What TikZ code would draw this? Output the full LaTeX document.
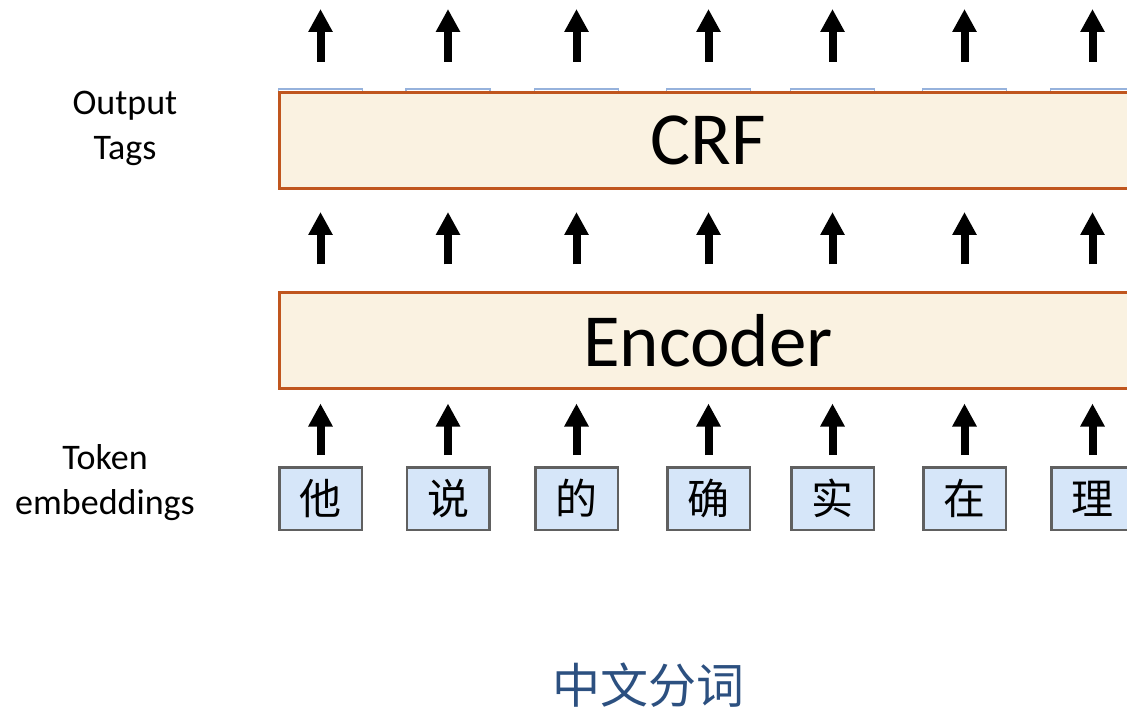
\documentclass[tikz,border=0pt]{standalone}
\usepackage{fontspec}
\setmainfont{Carlito}
\newfontfamily\cjk{Noto Sans CJK SC}
\usetikzlibrary{arrows.meta}

\definecolor{layerfill}{RGB}{250,242,225}
\definecolor{layerdraw}{RGB}{192,86,30}
\definecolor{tokfill}{RGB}{214,230,249}
\definecolor{tokdraw}{RGB}{96,96,96}
\definecolor{tagdraw}{RGB}{150,178,220}
\definecolor{titleblue}{RGB}{44,80,128}

\tikzset{
  layer/.style={draw=layerdraw, fill=layerfill, line width=3pt,
    minimum width=857pt, minimum height=96pt, inner sep=0pt,
    font=\fontsize{75}{80}\selectfont},
  tokbox/.style={draw=tokdraw, fill=tokfill, line width=2.5pt,
    minimum width=82.5pt, minimum height=62.5pt, inner sep=0pt,
    font=\cjk\fontsize{42}{46}\selectfont},
  tagbox/.style={draw=tagdraw, line width=1.5pt,
    minimum width=84pt, minimum height=66pt, inner sep=0pt},
  sidelabel/.style={align=center, font=\fontsize{36}{45}\selectfont},
  uparrow/.style={line width=8pt,
    -{Triangle[length=23pt 0 0, width=23pt 0 0]}},
}

\begin{document}
\begin{tikzpicture}[x=1pt, y=-1pt]
  \useasboundingbox (0,0) rectangle (1127,708);
  \clip (0,0) rectangle (1127,708);

  % tag boxes, mostly covered by the CRF layer
  \foreach \i/\cx in {1/320.5,2/448,3/576.5,4/708.5,5/832.5,6/964.5,7/1092.5}
    \node[tagbox] (tag\i) at (\cx,122) {};

  % layers
  \node[layer] (crf) at (708,140.5) {CRF};
  \node[layer] (enc) at (708,341) {Encoder};

  % token boxes
  \foreach \i/\cx/\ch in {1/320.5/他,2/448/说,3/576.5/的,4/708.5/确,5/832.5/实,6/964.5/在,7/1092.5/理}
    \node[tokbox] (tok\i) at (\cx,498.5) {\ch};

  % arrows between levels
  \foreach \i in {1,...,7} {
    \draw[uparrow, shorten <=11pt, shorten >=13pt] (tok\i.north) -- (tok\i.north |- enc.south);
    \draw[uparrow, shorten <=27pt, shorten >=22pt] (tok\i.north |- enc.north) -- (tok\i.north |- crf.south);
    \coordinate (out\i) at (tok\i.north |- 0,9);
    \draw[uparrow, shorten <=29pt] (tok\i.north |- crf.north) -- (out\i);
  }

  % side labels
  \node[sidelabel] (lbltags) at (125,128) {Output\\Tags};
  \node[sidelabel] (lbltok) at (105,483) {Token\\embeddings};

  % caption
  \node[font=\cjk\fontsize{48}{52}\selectfont, text=titleblue] (title) at (648,685) {中文分词};
\end{tikzpicture}
\end{document}
